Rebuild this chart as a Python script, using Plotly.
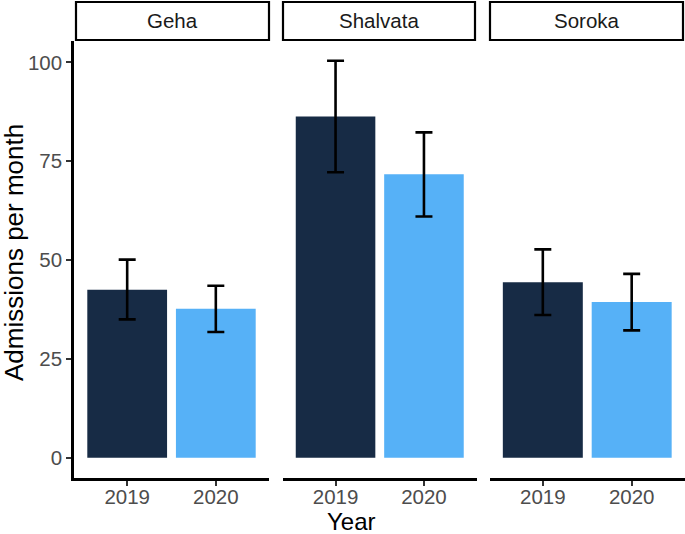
import plotly.graph_objects as go

hospitals = ["Geha", "Shalvata", "Soroka"]
years = ["2019", "2020"]
means = {"Geha": [42.5, 37.7], "Shalvata": [86.3, 71.7], "Soroka": [44.4, 39.4]}
upper = {"Geha": [50.1, 43.5], "Shalvata": [100.4, 82.3], "Soroka": [52.7, 46.5]}
lower = {"Geha": [35.0, 31.8], "Shalvata": [72.2, 61.0], "Soroka": [36.1, 32.2]}
bar_colors = ["#172B45", "#56B1F7"]
y_ticks = [0, 25, 50, 75, 100]

W, H = 685, 534
L, R, T, B = 74, 0, 41, 56
pw = W - L - R
ph = H - T - B

def px_x(p):
    return (p - L) / pw

def px_y(p):
    return (H - B - p) / ph

domains = [
    [px_x(74), px_x(269)],
    [px_x(282.5), px_x(477)],
    [px_x(489.5), px_x(685)],
]

FONT = "Liberation Sans, Arial, sans-serif"
TICK_SIZE = 20.5
fig = go.Figure()
shapes = []
annotations = []

for i, h in enumerate(hospitals):
    ax = "" if i == 0 else str(i + 1)
    m = means[h]
    fig.add_trace(go.Bar(
        x=years, y=m, width=0.9,
        marker=dict(color=bar_colors, line=dict(width=0)),
        error_y=dict(type="data", symmetric=False,
                     array=[u - v for u, v in zip(upper[h], m)],
                     arrayminus=[v - l for l, v in zip(lower[h], m)],
                     color="black", thickness=2.6, width=8.5),
        xaxis="x" + ax, yaxis="y" + ax, showlegend=False,
    ))
    xa = dict(domain=domains[i], range=[-0.6, 1.6], type="category",
              showline=True, linecolor="black", linewidth=2.6,
              ticks="outside", ticklen=5, tickwidth=1.5, tickcolor="#333333",
              tickfont=dict(family=FONT, size=TICK_SIZE, color="#4D4D4D"),
              ticklabelstandoff=-6,
              showgrid=False, zeroline=False, anchor="y" + ax, fixedrange=True)
    ya = dict(range=[-5.13, 105.4], showgrid=False, zeroline=False,
              anchor="x" + ax, fixedrange=True)
    if i == 0:
        ya.update(showline=True, linecolor="black", linewidth=2.6,
                  ticks="outside", ticklen=5, tickwidth=1.5, tickcolor="#333333",
                  tickvals=y_ticks, ticktext=[str(v) for v in y_ticks],
                  tickfont=dict(family=FONT, size=TICK_SIZE, color="#4D4D4D"))
    else:
        ya.update(showticklabels=False, showline=False, ticks="")
    fig.update_layout(**{"xaxis" + ax: xa, "yaxis" + ax: ya})

    x0 = domains[i][0] + (2 / pw if i == 0 else 0.5 / pw)
    x1 = domains[i][1] - (0 if i == 0 else 2 / pw)
    shapes.append(dict(type="rect", xref="paper", yref="paper",
                       x0=x0, x1=x1, y0=px_y(40), y1=px_y(2),
                       line=dict(color="black", width=2.2), fillcolor="white"))
    annotations.append(dict(text=h, xref="paper", yref="paper",
                            x=(x0 + x1) / 2, y=px_y(21), xanchor="center", yanchor="middle",
                            showarrow=False, font=dict(family=FONT, size=TICK_SIZE, color="#1A1A1A")))

annotations.append(dict(text="Admissions per month", xref="paper", yref="paper",
                        x=px_x(14), y=px_y(253), textangle=-90, xanchor="center", yanchor="middle",
                        showarrow=False, font=dict(family=FONT, size=26, color="black")))
annotations.append(dict(text="Year", xref="paper", yref="paper",
                        x=px_x(351), y=px_y(521), xanchor="center", yanchor="middle",
                        showarrow=False, font=dict(family=FONT, size=24, color="black")))

fig.update_layout(width=W, height=H, margin=dict(l=L, r=R, t=T, b=B),
                  plot_bgcolor="white", paper_bgcolor="white",
                  shapes=shapes, annotations=annotations, barmode="group")
fig.write_html("out.html", config={"displayModeBar": False},
               post_script="document.body.style.margin='0';")
